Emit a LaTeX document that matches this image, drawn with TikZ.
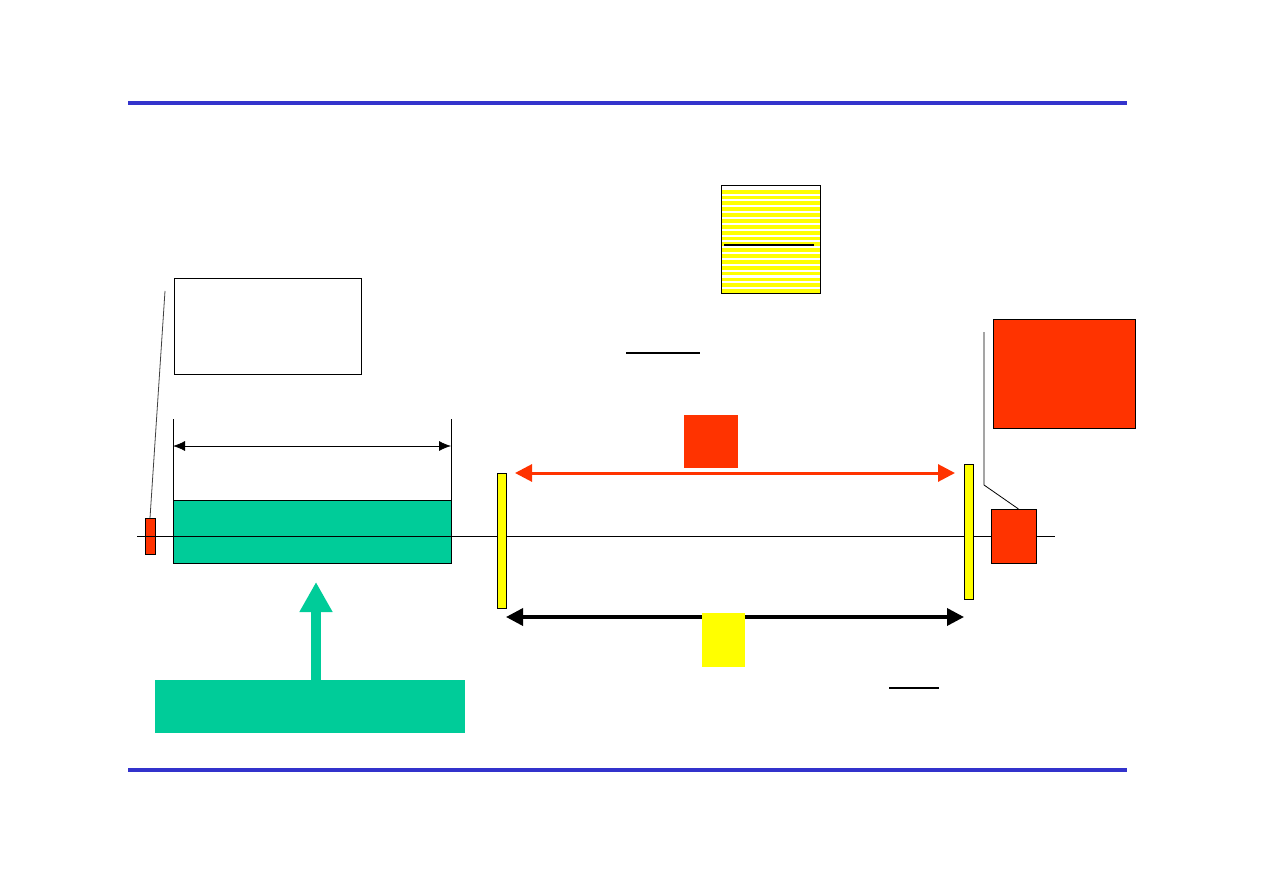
\documentclass[tikz,border=0pt]{standalone}
\usetikzlibrary{positioning,arrows.meta,calc}
\definecolor{slideblue}{RGB}{51,51,204}
\definecolor{hotred}{RGB}{255,51,0}
\definecolor{seagreen}{RGB}{0,204,153}
\definecolor{lemon}{RGB}{255,255,0}
\tikzset{
  rulebar/.style={line width=3.5pt, slideblue},
  thinline/.style={line width=0.8pt},
  blockbox/.style={draw, line width=0.8pt, inner sep=0pt, outer sep=0pt},
  redblock/.style={blockbox, fill=hotred},
  yellowbar/.style={blockbox, fill=lemon, minimum width=9pt, minimum height=135pt},
  plainblock/.style={inner sep=0pt, outer sep=0pt},
  dimarrow/.style={{Latex[length=12pt,width=10pt]}-{Latex[length=12pt,width=10pt]}, line width=0.8pt},
  redarrow/.style={{Triangle[length=17pt,width=17pt]}-{Triangle[length=17pt,width=17pt]}, line width=3pt, hotred},
  blkarrow/.style={{Triangle[length=17pt,width=17pt]}-{Triangle[length=17pt,width=17pt]}, line width=3.5pt, black},
  uparrow/.style={-{Triangle[length=30pt,width=31pt]}, line width=9.3pt, seagreen},
  underline/.style={line width=2pt}
}
\begin{document}
\begin{tikzpicture}[x=1pt, y=-1pt]
  \useasboundingbox (0,0) rectangle (1263,893);
  \draw[rulebar] (128,103) -- (1127,103);
  \draw[rulebar] (128,770) -- (1127,770);

  % left part
  \node[redblock, minimum width=10pt, minimum height=36pt] (tagL) at (150,536) {};
  \node[blockbox, fill=white, minimum width=187pt, minimum height=96pt] (noteL) at (267.5,326) {};
  \node[blockbox, fill=seagreen, minimum width=278pt, minimum height=63pt] (span) at (312,531.5) {};
  \node[plainblock, fill=seagreen, minimum width=310pt, minimum height=53pt] (gbox) at (310,706.5) {};
  \coordinate (leadL) at (165,291);
  \draw[thinline, black!75] (tagL.north) -- (leadL);
  \draw[thinline] (span.north west) -- +(0,-81);
  \draw[thinline] (span.north east) -- +(0,-81);
  \draw[dimarrow] ([yshift=54pt]span.north west) -- ([yshift=54pt]span.north east);
  \draw[uparrow] ([xshift=6pt]gbox.north) -- ++(0,-98);

  % axis
  \coordinate (axL) at (137,536);
  \coordinate (axR) at (1055,536);
  \draw[thinline] (axL) -- (axR);

  % mirrors and spans
  \node[yellowbar] (barL) at (501.5,540.5) {};
  \node[yellowbar] (barR) at (968.5,531.5) {};
  \coordinate (redL) at (515,473);
  \coordinate (redR) at (955,473);
  \draw[redarrow] (redL) -- (redR);
  \node[plainblock, fill=hotred, minimum width=54pt, minimum height=53pt] (rsq) at (711,441.5) {};
  \draw[blkarrow] (barL.east |- 0,617) -- (barR.west |- 0,617);
  \node[plainblock, fill=lemon, minimum width=43pt, minimum height=54pt] (ysq) at (723.5,640) {};

  % right part
  \node[redblock, minimum width=142pt, minimum height=109pt] (noteR) at (1064,373.5) {};
  \node[redblock, minimum width=45pt, minimum height=54pt] (tagR) at (1013.5,536) {};
  \coordinate (leadR) at (984,332);
  \draw[thinline] (leadR) -- (984,485) -- ([xshift=5pt]tagR.north);

  % striped sheet
  \foreach \k in {0,...,17}
    \fill[lemon] (722,{189.8+5.85*\k}) rectangle (820,{193.6+5.85*\k});
  \draw[underline] (724,245) -- (814,245);
  \node[blockbox, minimum width=99pt, minimum height=108pt] (sheet) at (770.5,239) {};

  \draw[underline] (626,353) -- (700,353);
  \draw[underline] (889,688) -- (939,688);
\end{tikzpicture}
\end{document}
